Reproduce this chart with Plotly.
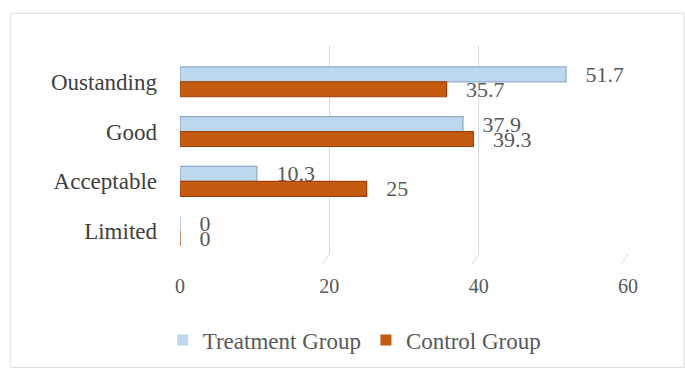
import plotly.graph_objects as go

categories = ["Oustanding", "Good", "Acceptable", "Limited"]
treatment = [51.7, 37.9, 10.3, 0]
control = [35.7, 39.3, 25, 0]
x_ticks = [0, 20, 40, 60]

FONT = "Liberation Serif"
TXT = "#595959"
BLUE = "#BDD7EE"
ORANGE = "#C55A11"

fig = go.Figure()
fig.add_trace(go.Bar(
    y=categories, x=treatment, orientation="h", name="Treatment Group",
    marker=dict(color=BLUE, line=dict(color="#8EA9C8", width=1.2)),
    text=treatment, texttemplate="   %{x}", textposition="outside",
    constraintext="none",
    textfont=dict(family=FONT, size=22, color=TXT), cliponaxis=False,
    showlegend=False,
))
fig.add_trace(go.Bar(
    y=categories, x=control, orientation="h", name="Control Group",
    marker=dict(color=ORANGE, line=dict(color="#9E4209", width=1.2)),
    text=control, texttemplate="   %{x}", textposition="outside",
    constraintext="none",
    textfont=dict(family=FONT, size=22, color=TXT), cliponaxis=False,
    showlegend=False,
))
# legend entries with small square swatches
for name, col in [("Treatment Group", BLUE), ("Control Group", ORANGE)]:
    fig.add_trace(go.Scatter(
        x=[None], y=[None], mode="markers", name=name,
        marker=dict(symbol="square", size=11, color=col),
    ))

# 3D-style floor diagonals under the gridlines
for v in x_ticks:
    fig.add_shape(type="line", xref="x", yref="paper", x0=v, x1=v - 0.9,
                  y0=0, y1=-0.05, line=dict(color="#D9D9D9", width=1))

# outer chart frame
fig.add_shape(type="rect", xref="paper", yref="paper",
              x0=-0.379, x1=1.125, y0=-0.543, y1=1.152,
              line=dict(color="#DDDDDD", width=1))

fig.update_layout(
    width=685, height=372,
    margin=dict(l=180, r=57, t=45, b=117),
    paper_bgcolor="white", plot_bgcolor="white",
    barmode="group", bargap=0.40, bargroupgap=0.0,
    font=dict(family=FONT, size=20, color=TXT),
    showlegend=True,
    legend=dict(orientation="h", x=0.39, xanchor="center", y=-0.405, yanchor="middle",
                font=dict(family=FONT, size=23, color=TXT),
                itemwidth=30, tracegroupgap=0),
    xaxis=dict(range=[0, 60], tickvals=x_ticks, showgrid=True, gridcolor="#D9D9D9",
               gridwidth=1, zeroline=False, showline=False,
               ticks="", ticklabelstandoff=18,
               tickfont=dict(family=FONT, size=20, color=TXT)),
    yaxis=dict(range=[3.46, -0.74], showgrid=False, zeroline=False, showline=False,
               ticks="", ticklabelstandoff=22,
               tickfont=dict(family=FONT, size=23, color="#404040")),
)

fig.write_html("out.html")
